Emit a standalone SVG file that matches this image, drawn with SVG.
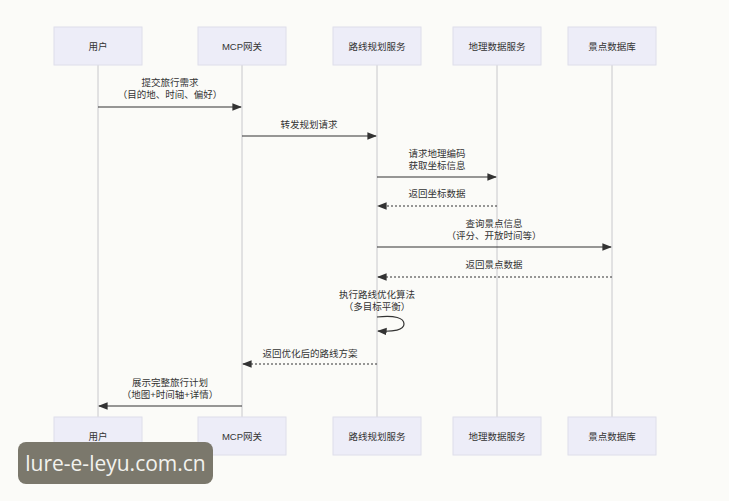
<svg xmlns="http://www.w3.org/2000/svg" width="729" height="501" viewBox="0 0 729 501">
<defs>
<style>
.box{fill:#ededf8;stroke:#dedeea;stroke-width:1}
.t{font-family:"Liberation Sans","Noto Sans CJK SC",sans-serif;font-size:9.5px;fill:#333;text-anchor:middle}
.life{stroke:#c8c8cc;stroke-width:1}
.m{stroke:#333;stroke-width:1.2;fill:none}
.d{stroke:#333;stroke-width:1.2;fill:none;stroke-dasharray:2,2}
</style>
<marker id="a" viewBox="0 0 10 10" refX="9" refY="5" markerWidth="8" markerHeight="8" orient="auto-start-reverse"><path d="M0,1 L10,5 L0,9 z" fill="#333"/></marker>
</defs>
<rect width="729" height="501" fill="#fbfbf8"/>
<g id="lifelines">
<line class="life" x1="98" y1="65" x2="98" y2="417"/>
<line class="life" x1="242" y1="65" x2="242" y2="417"/>
<line class="life" x1="377" y1="65" x2="377" y2="417"/>
<line class="life" x1="497" y1="65" x2="497" y2="417"/>
<line class="life" x1="612" y1="65" x2="612" y2="417"/>
</g>
<g id="n1"><rect class="box" x="54" y="27" width="88" height="38"/><text class="t" x="98" y="50">用户</text>
<rect class="box" x="54" y="417" width="88" height="38"/><text class="t" x="98" y="440">用户</text></g>
<g id="n2"><rect class="box" x="198" y="27" width="88" height="38"/><text class="t" x="242" y="50">MCP网关</text>
<rect class="box" x="198" y="417" width="88" height="38"/><text class="t" x="242" y="440">MCP网关</text></g>
<g id="n3"><rect class="box" x="333" y="27" width="88" height="38"/><text class="t" x="377" y="50">路线规划服务</text>
<rect class="box" x="333" y="417" width="88" height="38"/><text class="t" x="377" y="440">路线规划服务</text></g>
<g id="n4"><rect class="box" x="453" y="27" width="88" height="38"/><text class="t" x="497" y="50">地理数据服务</text>
<rect class="box" x="453" y="417" width="88" height="38"/><text class="t" x="497" y="440">地理数据服务</text></g>
<g id="n5"><rect class="box" x="568" y="27" width="88" height="38"/><text class="t" x="612" y="50">景点数据库</text>
<rect class="box" x="568" y="417" width="88" height="38"/><text class="t" x="612" y="440">景点数据库</text></g>
<g id="connectors">
<line class="m" x1="98" y1="107" x2="241" y2="107" marker-end="url(#a)"/>
<line class="m" x1="242" y1="136" x2="376" y2="136" marker-end="url(#a)"/>
<line class="m" x1="377" y1="177" x2="496" y2="177" marker-end="url(#a)"/>
<line class="d" x1="497" y1="206" x2="378" y2="206" marker-end="url(#a)"/>
<line class="m" x1="377" y1="247" x2="611" y2="247" marker-end="url(#a)"/>
<line class="d" x1="612" y1="277" x2="378" y2="277" marker-end="url(#a)"/>
<path class="m" d="M377,317 C395,315 404,318 404,324 C404,330 394,332 378,331" marker-end="url(#a)"/>
<line class="d" x1="377" y1="364" x2="243" y2="364" marker-end="url(#a)"/>
<line class="m" x1="242" y1="406" x2="99" y2="406" marker-end="url(#a)"/>
</g>
<g id="labels">
<text class="t" x="170" y="86">提交旅行需求</text>
<text class="t" x="170" y="98">（目的地、时间、偏好）</text>
<text class="t" x="309" y="128">转发规划请求</text>
<text class="t" x="437" y="157">请求地理编码</text>
<text class="t" x="437" y="169">获取坐标信息</text>
<text class="t" x="437" y="197">返回坐标数据</text>
<text class="t" x="494" y="227">查询景点信息</text>
<text class="t" x="494" y="239">（评分、开放时间等）</text>
<text class="t" x="494" y="268">返回景点数据</text>
<text class="t" x="377" y="298">执行路线优化算法</text>
<text class="t" x="377" y="310">（多目标平衡）</text>
<text class="t" x="310" y="357">返回优化后的路线方案</text>
<text class="t" x="170" y="386">展示完整旅行计划</text>
<text class="t" x="170" y="398">（地图+时间轴+详情）</text>
</g>
<rect x="18" y="442" width="195" height="42" rx="8" fill="#7b786c"/>
<text x="115.5" y="471" font-family="'Open Sans','DejaVu Sans',sans-serif" font-size="21" fill="#f2f2ee" text-anchor="middle">lure-e-leyu.com.cn</text>
</svg>
